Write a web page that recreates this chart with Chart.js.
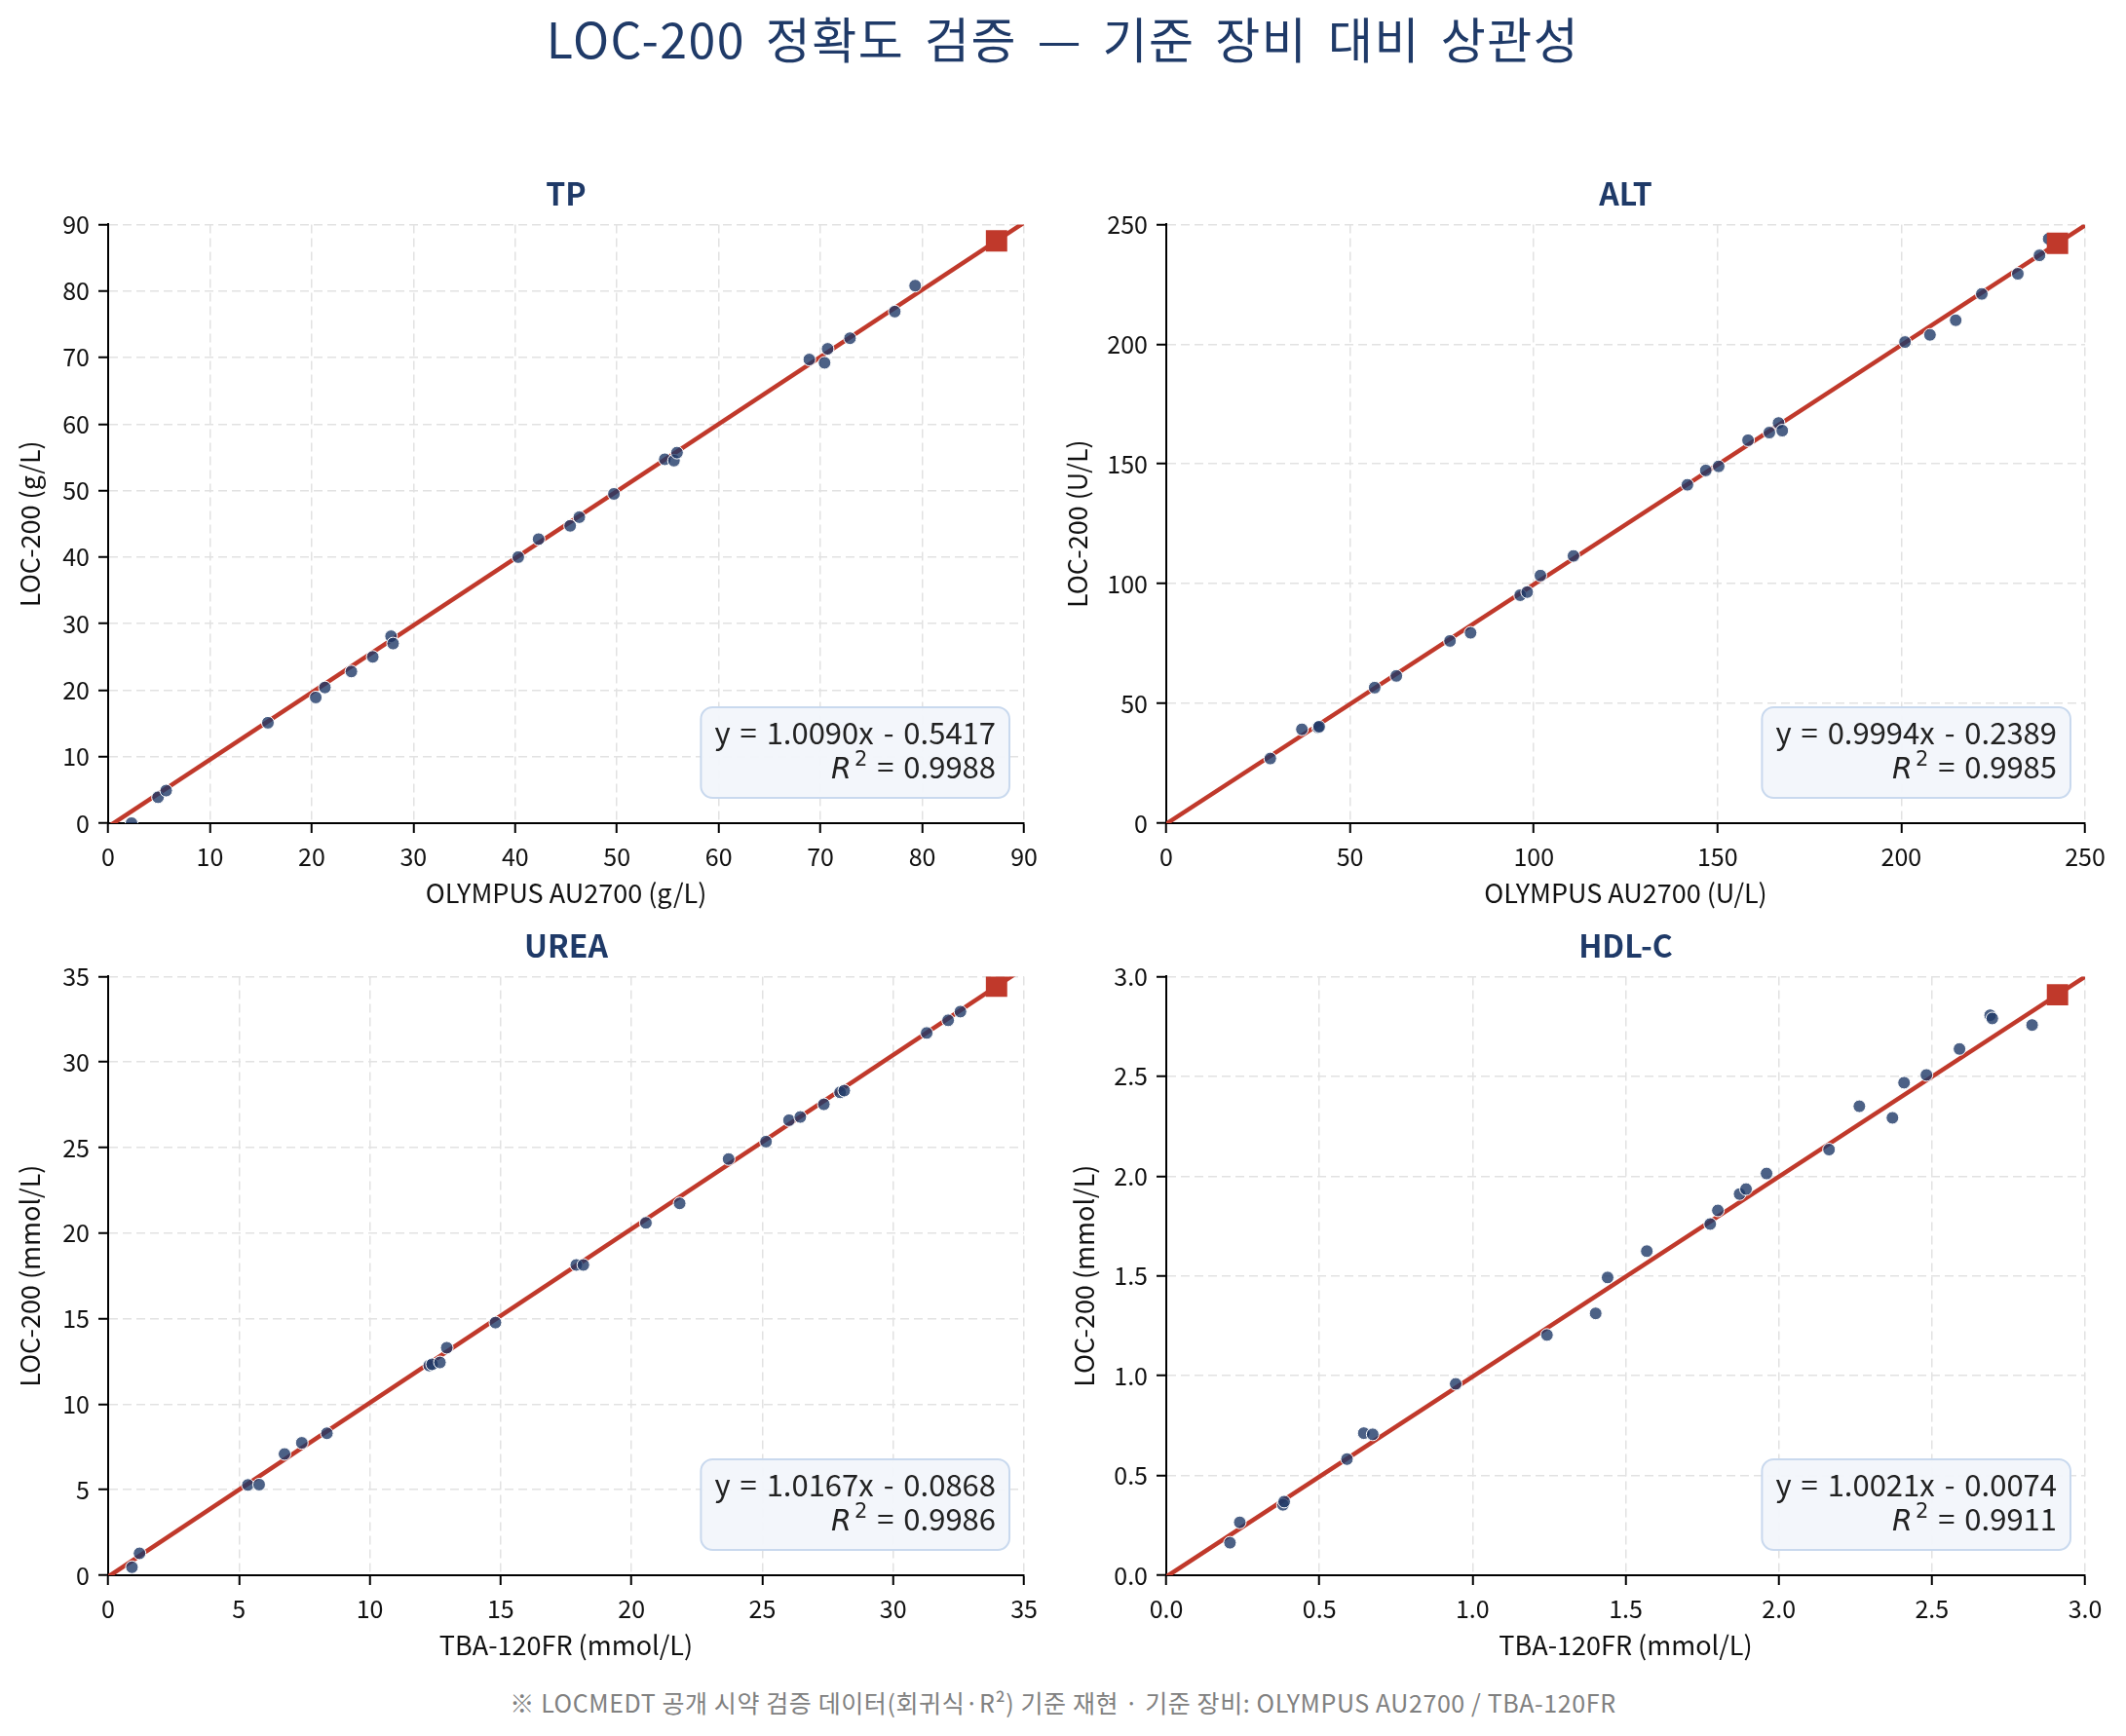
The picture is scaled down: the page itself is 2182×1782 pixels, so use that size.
<!DOCTYPE html>
<html>
<head>
<meta charset="utf-8">
<script src="https://cdn.jsdelivr.net/npm/chart.js@4.4.1/dist/chart.umd.min.js"></script>
<style>
  body { margin: 0; background: #fff; width: 2182px; height: 1782px; position: relative; overflow: hidden; font-family: "Noto Sans CJK KR", sans-serif; }
  #title { position: absolute; left: 0; top: 6px; width: 2182px; text-align: center; font-size: 50px; line-height: 64px; letter-spacing: 1.5px; word-spacing: 8px; color: #1f3a68; }
  #note { position: absolute; left: 0; top: 1731px; width: 2182px; text-align: center; font-size: 25px; line-height: 32px; letter-spacing: 0.6px; color: #808080; }
  canvas { position: absolute; }
</style>
</head>
<body>
<div id="title">LOC-200 정확도 검증 — 기준 장비 대비 상관성</div>
<canvas id="tp" width="1091" height="780" style="left:0px;top:170px"></canvas>
<canvas id="alt" width="1107" height="780" style="left:1075px;top:170px"></canvas>
<canvas id="urea" width="1091" height="780" style="left:0px;top:942px"></canvas>
<canvas id="hdl" width="1107" height="780" style="left:1075px;top:942px"></canvas>
<div id="note">※ LOCMEDT 공개 시약 검증 데이터(회귀식·R²) 기준 재현 · 기준 장비: OLYMPUS AU2700 / TBA-120FR</div>
<script>
// measured pairs: reference analyser (x) vs LOC-200 (y)
const tpRef = [2.3, 4.9, 5.7, 15.7, 20.4, 21.3, 23.9, 26.0, 27.8, 28.0, 40.3, 42.3, 45.4, 46.3, 49.7, 54.7, 55.6, 55.9, 68.9, 70.4, 70.7, 72.9, 77.3, 79.3];
const tpLoc = [0.0, 3.9, 4.9, 15.1, 18.9, 20.4, 22.8, 25.0, 28.1, 27.0, 40.0, 42.7, 44.7, 46.0, 49.5, 54.7, 54.5, 55.7, 69.7, 69.2, 71.3, 72.9, 76.9, 80.8];

const altRef = [28.3, 36.9, 41.3, 41.6, 56.7, 62.6, 77.2, 82.8, 96.3, 98.2, 101.8, 110.8, 141.8, 146.8, 150.3, 158.3, 164.1, 166.6, 167.6, 201.0, 207.8, 214.8, 221.9, 231.7, 237.6, 240.1];
const altLoc = [27.0, 39.2, 40.0, 40.3, 56.6, 61.5, 76.1, 79.5, 95.2, 96.5, 103.4, 111.6, 141.3, 147.3, 149.0, 159.9, 163.1, 167.1, 163.9, 200.9, 203.9, 210.0, 221.0, 229.4, 237.1, 244.0];

const ureaRef = [0.91, 1.20, 5.34, 5.77, 6.74, 7.40, 8.36, 12.27, 12.38, 12.68, 12.94, 14.80, 17.89, 18.16, 20.55, 21.84, 23.71, 25.14, 26.02, 26.45, 27.35, 27.97, 28.13, 31.28, 32.10, 32.57];
const ureaLoc = [0.47, 1.28, 5.28, 5.30, 7.09, 7.74, 8.30, 12.26, 12.33, 12.44, 13.30, 14.77, 18.14, 18.14, 20.60, 21.74, 24.33, 25.35, 26.60, 26.79, 27.53, 28.23, 28.33, 31.70, 32.44, 32.95];

const hdlRef = [0.208, 0.240, 0.381, 0.385, 0.590, 0.645, 0.674, 0.945, 1.243, 1.402, 1.441, 1.569, 1.776, 1.801, 1.872, 1.893, 1.960, 2.164, 2.263, 2.371, 2.409, 2.482, 2.590, 2.690, 2.697, 2.827];
const hdlLoc = [0.163, 0.265, 0.353, 0.369, 0.582, 0.712, 0.706, 0.959, 1.204, 1.312, 1.492, 1.624, 1.760, 1.828, 1.910, 1.935, 2.013, 2.133, 2.350, 2.292, 2.468, 2.507, 2.637, 2.806, 2.790, 2.757];

// regression: slope, intercept, R²
const tpFit = [1.0090, -0.5417, 0.9988];
const altFit = [0.9994, -0.2389, 0.9985];
const ureaFit = [1.0167, -0.0868, 0.9986];
const hdlFit = [1.0021, -0.0074, 0.9911];

// x of the square marker on each fit line
const markerX = [87.3, 242.5, 33.95, 2.91];

// axis max / tick step
const axisMax = [90, 250, 35, 3];
const axisStep = [10, 50, 5, 0.5];
const tickDigits = [0, 0, 0, 1];

const analytes = ['TP', 'ALT', 'UREA', 'HDL-C'];
const xTitles = ['OLYMPUS AU2700 (g/L)', 'OLYMPUS AU2700 (U/L)', 'TBA-120FR (mmol/L)', 'TBA-120FR (mmol/L)'];
const yTitles = ['LOC-200 (g/L)', 'LOC-200 (U/L)', 'LOC-200 (mmol/L)', 'LOC-200 (mmol/L)'];

const FONT = '"Noto Sans CJK KR", "Noto Sans", sans-serif';
const NAVY = '#1f3a68';
const RED = '#c0392b';

const fitBox = {
    id: 'fitBox',
    afterDatasetsDraw(chart, args, opts) {
        const ctx = chart.ctx;
        const a = chart.chartArea;
        const sign = opts.intercept < 0 ? '-' : '+';
        const line1 = 'y = ' + opts.slope.toFixed(4) + 'x ' + sign + ' ' + Math.abs(opts.intercept).toFixed(4);
        const rest = ' = ' + opts.r2.toFixed(4);
        const main = '31px ' + FONT;
        const ital = 'italic 30px "DejaVu Sans", sans-serif';
        const sup = '21px "DejaVu Sans", sans-serif';
        ctx.save();
        ctx.wordSpacing = '3px';
        ctx.font = main;
        const w1 = ctx.measureText(line1).width;
        const wRest = ctx.measureText(rest).width;
        ctx.font = ital;
        const wR = ctx.measureText('R').width;
        ctx.font = sup;
        const w2 = ctx.measureText('2').width;
        const wLine2 = wR + 3 + w2 + wRest;
        const boxW = Math.max(w1, wLine2) + 28;
        const boxH = 93;
        const right = a.right - 15;
        const top = a.bottom - 26 - boxH;
        const left = right - boxW;
        ctx.beginPath();
        ctx.roundRect(left, top, boxW, boxH, 12);
        ctx.fillStyle = 'rgba(242,246,251,0.95)';
        ctx.fill();
        ctx.lineWidth = 2;
        ctx.strokeStyle = '#c9d9ee';
        ctx.stroke();

        const tx = right - 14;
        ctx.fillStyle = '#222';
        ctx.textBaseline = 'alphabetic';
        ctx.textAlign = 'right';
        ctx.font = main;
        ctx.fillText(line1, tx, top + 38);
        ctx.fillText(rest, tx, top + 73);
        ctx.textAlign = 'left';
        const x = tx - wRest - w2 - 3 - wR;
        ctx.font = ital;
        ctx.fillText('R', x, top + 73);
        ctx.font = sup;
        ctx.fillText('2', x + wR + 3, top + 60);
        ctx.restore();
    }
};

function makeScale(i, horizontal, size) {
    return {
        type: 'linear',
        min: 0,
        max: axisMax[i],
        ticks: {
            stepSize: axisStep[i],
            color: '#111',
            font: { size: 25, family: FONT },
            padding: 9,
            maxRotation: 0,
            autoSkip: false,
            callback: v => Number(v).toFixed(tickDigits[i])
        },
        grid: {
            color: '#e2e2e2',
            lineWidth: 1.5,
            tickColor: '#000',
            tickLength: 10,
            tickWidth: 2
        },
        border: { color: '#000', width: 2, dash: [9, 5] },
        title: {
            display: true,
            text: horizontal ? xTitles[i] : yTitles[i],
            color: '#111',
            font: { size: 27, family: FONT },
            padding: { top: 2, bottom: 7 }
        },
        afterFit: s => {
            if (horizontal) s.height = size; else s.width = size;
        }
    };
}

function drawPanel(id, i, refs, locs, fit, padLeft, yWidth, padRight) {
    const points = refs.map((x, k) => ({ x: x, y: locs[k] }));
    const line = [0, axisMax[i]].map(x => ({ x: x, y: fit[0] * x + fit[1] }));
    const mark = [{ x: markerX[i], y: fit[0] * markerX[i] + fit[1] }];

    new Chart(document.getElementById(id).getContext('2d'), {
        type: 'scatter',
        data: {
            datasets: [
                {
                    data: mark,
                    pointStyle: 'rect',
                    pointRadius: 15.5,
                    backgroundColor: RED,
                    borderColor: RED,
                    borderWidth: 0,
                    order: 0
                },
                {
                    data: points,
                    pointRadius: 6.5,
                    backgroundColor: 'rgba(31,58,104,0.8)',
                    borderColor: '#ffffff',
                    borderWidth: 1,
                    order: 1
                },
                {
                    type: 'line',
                    data: line,
                    borderColor: RED,
                    borderWidth: 4.5,
                    pointRadius: 0,
                    fill: false,
                    order: 2
                }
            ]
        },
        options: {
            responsive: false,
            animation: false,
            devicePixelRatio: 1,
            layout: { padding: { left: padLeft, right: padRight, top: 0, bottom: 10 } },
            plugins: {
                legend: { display: false },
                tooltip: { enabled: false },
                title: {
                    display: true,
                    text: analytes[i],
                    fullSize: false,
                    color: NAVY,
                    font: { size: 32, weight: 'bold', family: FONT },
                    padding: { top: 10, bottom: 12 }
                },
                fitBox: { slope: fit[0], intercept: fit[1], r2: fit[2] }
            },
            scales: {
                x: makeScale(i, true, 95),
                y: makeScale(i, false, yWidth)
            }
        },
        plugins: [fitBox]
    });
}

drawPanel('tp', 0, tpRef, tpLoc, tpFit, 13, 98, 40);
drawPanel('alt', 1, altRef, altLoc, altFit, 13, 109, 42);
drawPanel('urea', 2, ureaRef, ureaLoc, ureaFit, 13, 98, 40);
drawPanel('hdl', 3, hdlRef, hdlLoc, hdlFit, 20, 102, 42);
</script>
</body>
</html>
